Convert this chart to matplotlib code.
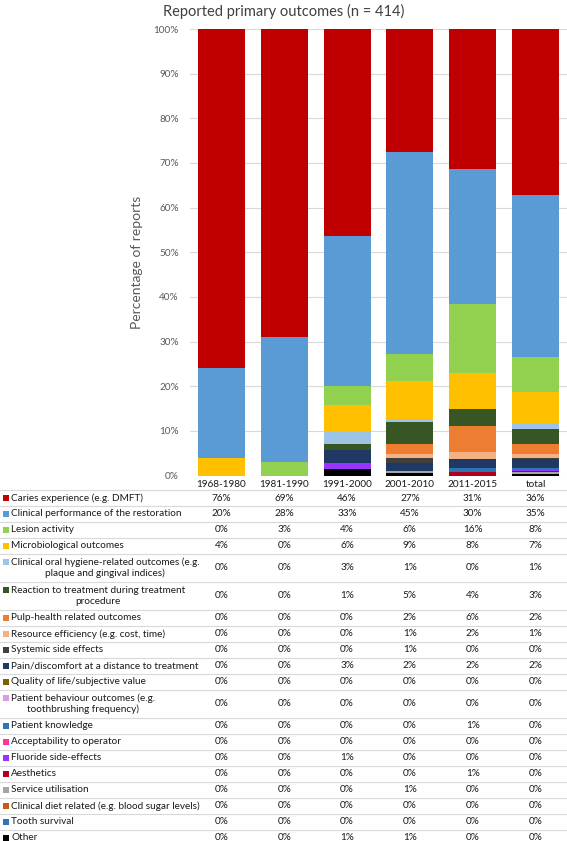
import matplotlib
matplotlib.use("Agg")
import matplotlib.pyplot as plt
import matplotlib.transforms as mtransforms
from matplotlib.patches import Rectangle
import numpy as np

plt.rcParams['font.family'] = ['Lato', 'DejaVu Sans']

# ---- data -------------------------------------------------------------
periods = ["1968-1980", "1981-1990", "1991-2000", "2001-2010", "2011-2015", "total"]

outcomes = [
    "Caries experience (e.g. DMFT)",
    "Clinical performance of the restoration",
    "Lesion activity",
    "Microbiological outcomes",
    "Clinical oral hygiene-related outcomes (e.g.\nplaque and gingival indices)",
    "Reaction to treatment during treatment\nprocedure",
    "Pulp-health related outcomes",
    "Resource efficiency (e.g. cost, time)",
    "Systemic side effects",
    "Pain/discomfort at a distance to treatment",
    "Quality of life/subjective value",
    "Patient behaviour outcomes (e.g.\ntoothbrushing frequency)",
    "Patient knowledge",
    "Acceptability to operator",
    "Fluoride side-effects",
    "Aesthetics",
    "Service utilisation",
    "Clinical diet related (e.g. blood sugar levels)",
    "Tooth survival",
    "Other",
]

# percentages per period (table values, bars are normalised to 100%)
caries        = [76.0, 68.9, 46.45, 27.45, 31.4, 36.3]
clinical_perf = [20.0, 28.0, 33.45, 45.3, 30.1, 35.3]
lesion        = [0, 3.1, 4.4, 6.0, 15.6, 7.55]
microbio      = [4.0, 0, 5.9, 8.8, 8.1, 7.0]
oral_hygiene  = [0, 0, 2.8, 0.55, 0, 1.2]
reaction      = [0, 0, 1.4, 4.9, 3.7, 3.2]
pulp          = [0, 0, 0, 2.2, 5.8, 2.1]
resource      = [0, 0, 0, 0.9, 1.7, 0.9]
systemic      = [0, 0, 0, 1.1, 0, 0.4]
pain          = [0, 0, 2.8, 1.7, 2.0, 1.9]
quality_life  = [0, 0, 0, 0, 0, 0]
behaviour     = [0, 0, 0, 0, 0, 0]
knowledge     = [0, 0, 0, 0, 0.8, 0.3]
acceptability = [0, 0, 0, 0, 0, 0]
fluoride      = [0, 0, 1.4, 0, 0, 0.3]
aesthetics    = [0, 0, 0, 0, 0.8, 0.3]
service       = [0, 0, 0, 0.55, 0, 0.3]
diet          = [0, 0, 0, 0, 0, 0]
tooth_surv    = [0, 0, 0, 0, 0, 0]
other         = [0, 0, 1.4, 0.55, 0, 0.4]

series = [caries, clinical_perf, lesion, microbio, oral_hygiene, reaction, pulp,
          resource, systemic, pain, quality_life, behaviour, knowledge,
          acceptability, fluoride, aesthetics, service, diet, tooth_surv, other]

colors = ["#C00000", "#5B9BD5", "#92D050", "#FFC000", "#9DC3E6", "#375623",
          "#ED7D31", "#F4B183", "#404040", "#203864", "#7F6000", "#DA9BE8",
          "#2E75B6", "#FF3399", "#9933FF", "#B00020", "#A5A5A5", "#C55A11",
          "#2F75B5", "#000000"]

# ---- figure -----------------------------------------------------------
W, H = 567, 841
fig = plt.figure(figsize=(W / 100, H / 100), dpi=100)

tab = fig.add_axes([0, 0, 1, 1], zorder=0)
tab.set_xlim(0, W)
tab.set_ylim(H, 0)
tab.axis('off')

ax_top, ax_bot, ax_left = 29, 475.5, 190
ax = fig.add_axes([ax_left / W, 1 - ax_bot / H, (W - ax_left) / W, (ax_bot - ax_top) / H], zorder=1)
ax.patch.set_alpha(0)

data = np.array(series, dtype=float)
shares = data / data.sum(axis=0) * 100
x = np.arange(len(periods))
bottom = np.zeros(len(periods))
for i in range(len(series) - 1, -1, -1):
    ax.bar(x, shares[i], 0.75, bottom=bottom, color=colors[i], linewidth=0, zorder=2)
    bottom += shares[i]

ax.set_xlim(-0.5, len(periods) - 0.5)
ax.set_ylim(0, 100)
ax.set_yticks(np.arange(0, 101, 10))
ax.set_yticklabels([f"{v}%" for v in range(0, 101, 10)])
ax.tick_params(axis='y', length=0, pad=8, labelsize=7.2, labelcolor="#595959")
ax.set_xticks([])
ax.grid(axis='y', color="#D9D9D9", linewidth=0.8, zorder=0)
ax.set_axisbelow(True)
for s in ax.spines.values():
    s.set_visible(False)
ax.set_ylabel("Percentage of reports", fontsize=10, color="#595959")
ax.yaxis.set_label_coords(-0.125, 0.478)

fig.text(0.5, 1 - 11 / H, "Reported primary outcomes (n = 414)", ha='center', va='center',
         fontsize=10.5, color="#404040")

# ---- data table -------------------------------------------------------
trans = mtransforms.blended_transform_factory(ax.transData, tab.transData)
header_top, header_h, single_h, double_h = 476, 14, 16, 28
txt_kw = dict(fontsize=7.2, color="#1A1A1A")

for j, p in enumerate(periods):
    tab.text(j, header_top + header_h / 2 + 1, p, transform=trans, ha='center', va='center', **txt_kw)

y = header_top + header_h
tab.plot([0, W], [y, y], color="#D9D9D9", lw=0.8)
for i, name in enumerate(outcomes):
    h = double_h if "\n" in name else single_h
    yc = y + h / 2
    tab.text(11, yc, name, ha='left', va='center', multialignment='center',
             linespacing=1.15, **txt_kw)
    first_line = yc - 6 if "\n" in name else yc
    tab.add_patch(Rectangle((3, first_line - 3), 6, 6, color=colors[i], lw=0))
    for j in range(len(periods)):
        tab.text(j, yc, "%.0f%%" % series[i][j], transform=trans, ha='center', va='center', **txt_kw)
    y += h
    tab.plot([0, W], [y, y], color="#D9D9D9", lw=0.8)

fig.savefig("out.png", dpi=100)
